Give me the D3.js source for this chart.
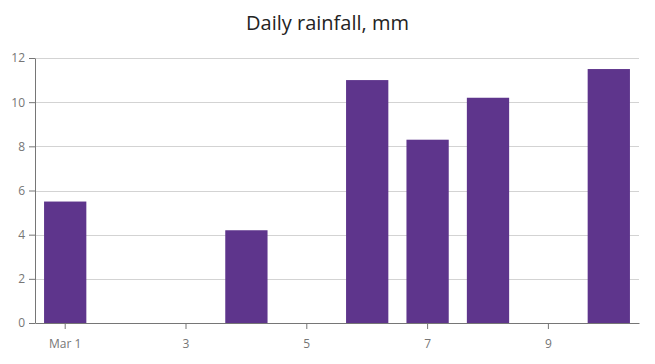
<!DOCTYPE html>
<meta charset="utf-8">
<style>
body { margin: 0; background: #fff; }
text { font-family: "Segoe UI", "Open Sans", sans-serif; }
.grid line { stroke: #d3d3d3; stroke-width: 1px; }
.axis path, .axis line { stroke: #767676; }
.axis text { fill: #767676; font-size: 12px; }
</style>
<body>
<script src="https://d3js.org/d3.v7.min.js"></script>
<script>
// day of March
var days = [1, 2, 3, 4, 5, 6, 7, 8, 9, 10];
// rainfall in mm
var rainfall = [5.5, 0, 0, 4.2, 0, 11, 8.3, 10.2, 0, 11.5];
var yTicks = [0, 2, 4, 6, 8, 10, 12];

var width = 655, height = 364;
var margin = {top: 58, right: 16, bottom: 41, left: 35};

var svg = d3.select("body").append("svg")
    .attr("width", width)
    .attr("height", height);

var x = d3.scaleBand()
    .domain(days)
    .range([margin.left, width - margin.right])
    .paddingInner(0.3)
    .paddingOuter(0.15);

var y = d3.scaleLinear()
    .domain([0, 12])
    .range([height - margin.bottom, margin.top]);

svg.append("text")
    .attr("x", width / 2)
    .attr("y", 30)
    .attr("text-anchor", "middle")
    .attr("font-size", "20px")
    .attr("fill", "#232323")
    .text("Daily rainfall, mm");

// grid
svg.append("g")
    .attr("class", "grid")
    .selectAll("line")
    .data(yTicks.filter(function(d) { return d > 0; }))
    .enter().append("line")
    .attr("x1", margin.left)
    .attr("x2", width - margin.right)
    .attr("y1", function(d) { return Math.round(y(d)) + 0.5; })
    .attr("y2", function(d) { return Math.round(y(d)) + 0.5; });

svg.append("g")
    .selectAll("rect")
    .data(days)
    .enter().append("rect")
    .attr("x", function(d) { return x(d); })
    .attr("width", x.bandwidth())
    .attr("y", function(d, i) { return y(rainfall[i]); })
    .attr("height", function(d, i) { return y(0) - y(rainfall[i]); })
    .attr("fill", "#5e358c");

var xAxis = d3.axisBottom(x)
    .tickValues(days.filter(function(d) { return d % 2 == 1; }))
    .tickFormat(function(d) { return d == 1 ? "Mar 1" : d; })
    .tickSize(6)
    .tickSizeOuter(0);

svg.append("g")
    .attr("class", "axis")
    .attr("transform", "translate(0," + y(0) + ")")
    .call(xAxis)
    .call(function(g) { g.selectAll("text").attr("dy", "1.3em"); });

svg.append("g")
    .attr("class", "axis")
    .attr("transform", "translate(" + margin.left + ",0)")
    .call(d3.axisLeft(y).tickValues(yTicks).tickSize(6).tickSizeOuter(0).tickPadding(4));
</script>
